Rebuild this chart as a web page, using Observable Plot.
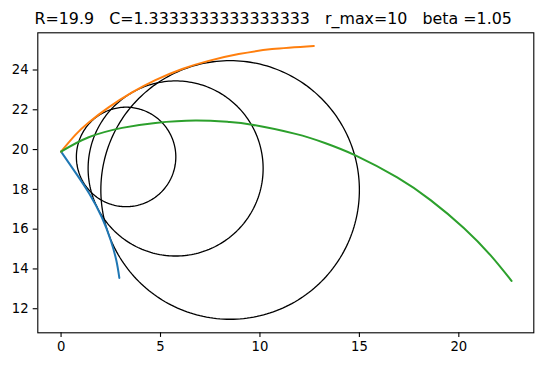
<!DOCTYPE html>
<html>
<head>
<meta charset="utf-8">
<script src="https://cdn.jsdelivr.net/npm/d3@7"></script>
<script src="https://cdn.jsdelivr.net/npm/@observablehq/plot@0.6"></script>
<style>
  html, body { margin: 0; padding: 0; background: #fff; }
  svg text { white-space: pre; }
</style>
</head>
<body>
<div id="chart"></div>
<script>
const titleText = "R=19.9   C=1.3333333333333333   r_max=10   beta =1.05";

const xTicks = [0, 5, 10, 15, 20];
const yTicks = [12, 14, 16, 18, 20, 22, 24];

// circles: centre and radius
const circleCx = [3.27, 5.76, 8.5];
const circleCy = [19.63, 19.05, 17.97];
const circleR  = [2.5, 4.4, 6.5];

// curves
const blueX = [0, 0.77, 1.43, 2.05, 2.5, 2.78, 2.93];
const blueY = [19.9, 18.78, 17.77, 16.6, 15.43, 14.42, 13.55];

const orangeX = [0, 0.72, 1.39, 2.39, 3.57, 4.74, 6.09, 7.42, 8.93, 10.61, 12.71];
const orangeY = [19.9, 20.74, 21.36, 22.12, 22.87, 23.49, 24.05, 24.46, 24.8, 25.05, 25.21];

const greenX = [0, 1.39, 3.07, 4.74, 6.76, 8.43, 9.6, 11.79, 13.3, 14.8, 16.9, 18.58, 20.25, 21.6, 22.65];
const greenY = [19.9, 20.62, 21.09, 21.34, 21.46, 21.39, 21.25, 20.79, 20.32, 19.71, 18.6, 17.46, 16.06, 14.68, 13.4];

const toPts = (xs, ys) => xs.map((x, i) => ({x, y: ys[i]}));

// circle outlines built from centre + radius
const circlePts = [];
circleCx.forEach((cx, k) => {
  for (let i = 0; i <= 240; i++) {
    const t = (i / 240) * 2 * Math.PI;
    circlePts.push({k, x: cx + circleR[k] * Math.cos(t), y: circleCy[k] + circleR[k] * Math.sin(t)});
  }
});

const fontFamily = "DejaVu Sans";

const chart = Plot.plot({
  width: 545,
  height: 366,
  marginLeft: 37.3,
  marginRight: 11.7,
  marginTop: 32.3,
  marginBottom: 33.7,
  style: {fontFamily, fontSize: "13.2px", background: "#fff", overflow: "visible"},
  x: {domain: [-1.17, 23.77]},
  y: {domain: [10.79, 25.87]},
  marks: [
    Plot.line(circlePts, {x: "x", y: "y", z: "k", stroke: "black", strokeWidth: 1.3}),
    Plot.line(toPts(blueX, blueY), {x: "x", y: "y", stroke: "#1f77b4", strokeWidth: 2, curve: "natural"}),
    Plot.line(toPts(orangeX, orangeY), {x: "x", y: "y", stroke: "#ff7f0e", strokeWidth: 2, curve: "natural"}),
    Plot.line(toPts(greenX, greenY), {x: "x", y: "y", stroke: "#2ca02c", strokeWidth: 2, curve: "natural"}),
    Plot.frame({stroke: "black", strokeWidth: 1.1}),
    Plot.axisX(xTicks, {tickSize: 4.6, tickPadding: 4.6, fontSize: 13.2, label: null, stroke: "black", strokeWidth: 1.1, fill: "black"}),
    Plot.axisY(yTicks, {tickSize: 4.6, tickPadding: 4.6, fontSize: 13.2, label: null, stroke: "black", strokeWidth: 1.1, fill: "black"}),
    Plot.text([titleText], {frameAnchor: "top-left", dx: -3.3, dy: -8.5, textAnchor: "start", lineAnchor: "bottom", fontSize: 15.85, fill: "black", text: d => d})
  ]
});

document.getElementById("chart").appendChild(chart);
</script>
</body>
</html>
